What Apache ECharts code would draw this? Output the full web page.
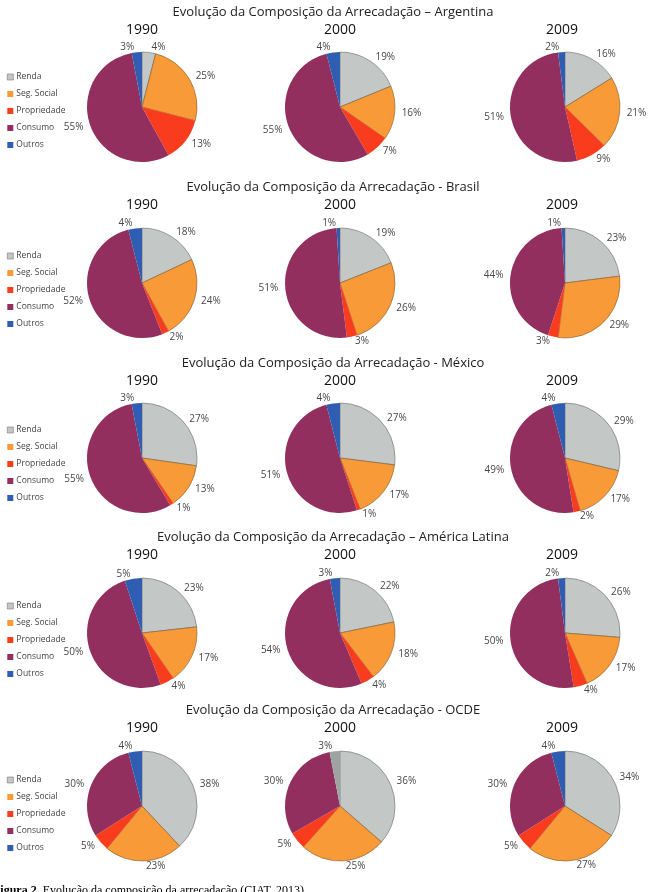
<!DOCTYPE html>
<html>
<head>
<meta charset="utf-8">
<script src="https://cdn.jsdelivr.net/npm/echarts@6/dist/echarts.min.js"></script>
<style>
html,body{margin:0;padding:0;background:#fff;}
#c{width:648px;height:892px;}
</style>
</head>
<body>
<div id="c"></div>
<script>
// ---- data ----
const categories = ['Renda', 'Seg. Social', 'Propriedade', 'Consumo', 'Outros'];
const years = ['1990', '2000', '2009'];
const titles = [
  'Evolução da Composição da Arrecadação – Argentina',
  'Evolução da Composição da Arrecadação - Brasil',
  'Evolução da Composição da Arrecadação - México',
  'Evolução da Composição da Arrecadação – América Latina',
  'Evolução da Composição da Arrecadação - OCDE'
];
const argentina = [[4, 25, 13, 55, 3], [19, 16, 7, 55, 4], [16, 21, 9, 51, 2]];
const brasil = [[18, 24, 2, 52, 4], [19, 26, 3, 51, 1], [23, 29, 3, 44, 1]];
const mexico = [[27, 13, 1, 55, 3], [27, 17, 1, 51, 4], [29, 17, 2, 49, 4]];
const americaLatina = [[23, 17, 4, 50, 5], [22, 18, 4, 54, 3], [26, 17, 4, 50, 2]];
const ocde = [[38, 23, 5, 30, 4], [36, 25, 5, 30, 3], [34, 27, 5, 30, 4]];
const caption = 'Evolução da composição da arrecadação (CIAT, 2013).';

// ---- layout / style ----
const rows = [argentina, brasil, mexico, americaLatina, ocde];
const colors = ['#c3c8c6', '#f89a38', '#fa3c1e', '#922f5e', '#2f5db1'];
const borders = ['#6a6a6a', '#7a5a30', null, null, null];
const titleY = [12, 187, 363, 537, 710];
const yearY = [30, 205, 381, 555, 728];
const pieY = [107, 283, 458, 633, 806];
const pieX = [142, 340, 565];
const yearX = [142, 340, 562];
const legendTop = [66, 245, 419, 595, 769];
const FONT = '"Open Sans", "Noto Sans", sans-serif';

const series = [];
const graphic = [];
const legend = [];

rows.forEach((row, r) => {
  graphic.push({
    type: 'text', x: 333, y: titleY[r],
    style: { text: titles[r], align: 'center', verticalAlign: 'middle', fontSize: 13, fontFamily: FONT, fill: '#222' }
  });
  legend.push({
    data: categories.map((n, i) => ({ name: n, itemStyle: { color: colors[i], borderWidth: i === 0 ? 0.6 : 0, borderColor: '#777' } })),
    orient: 'vertical', left: 2, top: legendTop[r],
    itemWidth: 6, itemHeight: 6, itemGap: 5, icon: 'rect',
    textStyle: { fontSize: 8.5, lineHeight: 12, color: '#444', fontFamily: FONT, padding: [0, 0, 0, -2] },
    selectedMode: false
  });
  row.forEach((vals, c) => {
    graphic.push({
      type: 'text', x: yearX[c], y: yearY[r],
      style: { text: years[c], align: 'center', verticalAlign: 'middle', fontSize: 14, fontFamily: FONT, fill: '#111' }
    });
    series.push({
      type: 'pie',
      name: titles[r] + ' ' + years[c],
      center: [pieX[c], pieY[r]],
      radius: 55,
      startAngle: 90,
      clockwise: true,
      animation: false,
      avoidLabelOverlap: true,
      label: {
        show: true, position: 'outside', formatter: '{c}%', overflow: 'none',
        fontSize: 10, color: '#484848', fontFamily: FONT, distanceToLabelLine: 2
      },
      labelLine: { show: false, length: 5, length2: 0 },
      emphasis: { disabled: true },
      data: categories.map((name, i) => {
        let color = colors[i];
        // OCDE 2000 "Outros" slice is drawn grey in the source
        if (r === 4 && c === 1 && i === 4) color = '#9ea4a1';
        const st = { color: color };
        if (borders[i]) { st.borderColor = borders[i]; st.borderWidth = 0.6; }
        return { name: name, value: vals[i], itemStyle: st };
      })
    });
  });
});

graphic.push({
  type: 'text', x: -7, y: 885,
  style: {
    text: '{b|Figura 2}. ' + caption,
    rich: { b: { fontWeight: 'bold', fontSize: 12, fontFamily: '"Liberation Serif", serif', fill: '#000' } },
    fontSize: 12, fontFamily: '"Liberation Serif", serif', fill: '#000', verticalAlign: 'top'
  }
});

const chart = echarts.init(document.getElementById('c'), null, { renderer: 'canvas' });
chart.setOption({
  backgroundColor: '#fff',
  animation: false,
  color: colors,
  legend: legend,
  graphic: graphic,
  series: series
});
</script>
</body>
</html>
